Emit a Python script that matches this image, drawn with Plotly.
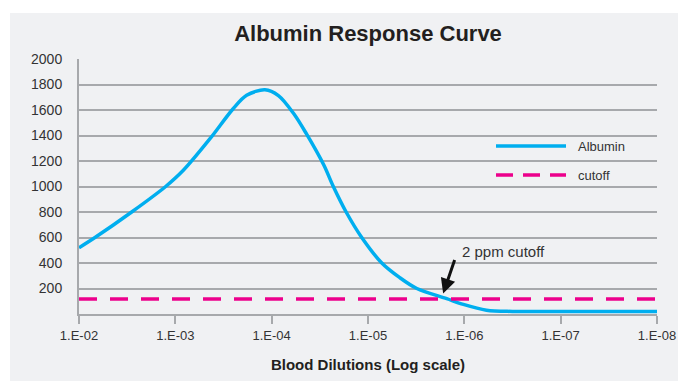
import plotly.graph_objects as go

# ---- data ----
dilution_exponents = [-2, -2.166, -2.547, -2.9, -3.083, -3.36, -3.6, -3.74, -3.93, -4.07, -4.23, -4.36,
                      -4.54, -4.64, -4.773, -4.935, -5.143, -5.33, -5.507, -5.817, -5.99, -6.23, -6.5, -7, -8]
albumin_values = [520, 600, 800, 1000, 1127, 1375, 1610, 1715, 1758, 1713, 1570, 1414,
                  1170, 1000, 800, 600, 400, 285, 200, 120, 75, 30, 20, 20, 20]
cutoff_exponents = [-2, -8]
cutoff_values = [117, 117]
x_tick_exponents = [-2, -3, -4, -5, -6, -7, -8]
x_tick_labels = ["1.E-02", "1.E-03", "1.E-04", "1.E-05", "1.E-06", "1.E-07", "1.E-08"]
y_tick_values = [200, 400, 600, 800, 1000, 1200, 1400, 1600, 1800, 2000]

dilutions = [10 ** e for e in dilution_exponents]
cutoff_x = [10 ** e for e in cutoff_exponents]
x_tick_vals = [10 ** e for e in x_tick_exponents]

BLUE = "#00aeef"
PINK = "#ec008c"
GRID = "#a7a9ac"
BG = "#f0f1f3"
FONT = "Liberation Sans, Arial, sans-serif"

fig = go.Figure()
fig.add_trace(go.Scatter(x=dilutions, y=albumin_values, mode="lines", name="Albumin",
                         line=dict(color=BLUE, width=3.5, shape="spline", smoothing=0.9)))
fig.add_trace(go.Scatter(x=cutoff_x, y=cutoff_values, mode="lines", name="cutoff",
                         line=dict(color=PINK, width=3.5, dash="18px,13px")))

OFF = 8  # page body margin
W, H = 686 - OFF, 381 - OFF
L, T = 79 - OFF, 59 - OFF
R = W - (657 - OFF)
B = H - (314 - OFF)
pw = W - L - R
ph = H - T - B

def px(xpage):
    return (xpage - OFF - L) / pw

def py(ypage):
    return (H - B - (ypage - OFF)) / ph

shapes = [
    # grey panel
    dict(type="rect", xref="paper", yref="paper", x0=px(10), x1=px(720), y0=py(420), y1=py(13),
         fillcolor=BG, line=dict(width=0), layer="below"),
    # legend samples
    dict(type="line", xref="paper", yref="paper", x0=px(496), x1=px(566), y0=py(146), y1=py(146),
         line=dict(color=BLUE, width=3.5)),
    dict(type="line", xref="paper", yref="paper", x0=px(496), x1=px(566), y0=py(175), y1=py(175),
         line=dict(color=PINK, width=3.5, dash="17px,10px")),
]

annotations = [
    dict(xref="paper", yref="paper", x=px(576), y=py(146), text="Albumin", showarrow=False,
         xanchor="left", yanchor="middle", font=dict(family=FONT, size=13, color="#333333")),
    dict(xref="paper", yref="paper", x=px(576), y=py(175), text="cutoff", showarrow=False,
         xanchor="left", yanchor="middle", font=dict(family=FONT, size=13, color="#333333")),
    # arrow
    dict(xref="x", yref="y", x=-5.78, y=160, text="", showarrow=True, arrowhead=2, arrowsize=1,
         arrowwidth=3, arrowcolor="#111111", ax=12, ay=-35),
    dict(xref="paper", yref="paper", x=px(460), y=py(251), text="2 ppm cutoff", showarrow=False,
         xanchor="left", yanchor="middle", font=dict(family=FONT, size=15, color="#333333")),
]

fig.update_layout(
    width=W, height=H,
    margin=dict(l=L, r=R, t=T, b=B, autoexpand=False),
    paper_bgcolor="white", plot_bgcolor=BG,
    showlegend=False,
    title=dict(text="<b>Albumin Response Curve</b>", x=px(368), xref="paper", xanchor="center",
               y=1 - (33 - OFF) / H, yref="container", yanchor="middle",
               font=dict(family=FONT, size=22, color="#231f20")),
    shapes=shapes, annotations=annotations,
)

fig.update_xaxes(type="log", range=[-2, -8], tickvals=x_tick_vals, ticktext=x_tick_labels,
                 showgrid=False, zeroline=False, showline=True, linecolor=GRID, linewidth=2,
                 ticks="outside", ticklen=8, tickwidth=2, tickcolor=GRID,
                 tickfont=dict(family=FONT, size=13, color="#333333"),
                 title=dict(text="<b>Blood Dilutions (Log scale)</b>", standoff=18,
                            font=dict(family=FONT, size=15, color="#231f20")),
                 automargin=False)
fig.update_yaxes(range=[0, 2000], tickvals=y_tick_values, showgrid=True, gridcolor=GRID, gridwidth=1.5,
                 zeroline=False, showline=True, linecolor=GRID, linewidth=2,
                 ticks="outside", ticklen=12, tickcolor="rgba(0,0,0,0)",
                 tickfont=dict(family=FONT, size=14, color="#333333"), automargin=False)

fig.write_html("out.html")
